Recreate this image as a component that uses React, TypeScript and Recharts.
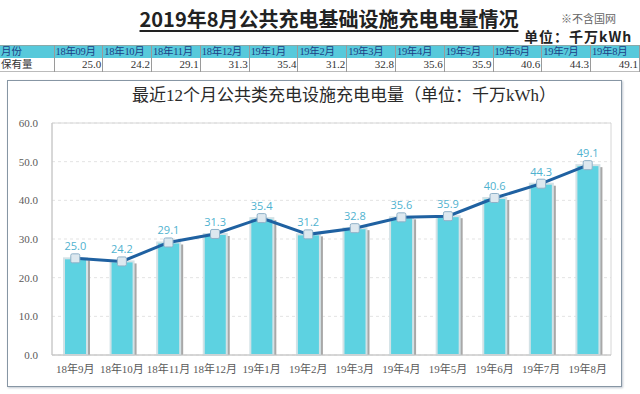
import { ComposedChart, Bar, Line, XAxis, YAxis, CartesianGrid, LabelList, ReferenceArea } from "recharts";

const months = ["18年9月", "18年10月", "18年11月", "18年12月", "19年1月", "19年2月", "19年3月", "19年4月", "19年5月", "19年6月", "19年7月", "19年8月"];
const tableMonths = ["18年09月", "18年10月", "18年11月", "18年12月", "19年1月", "19年2月", "19年3月", "19年4月", "19年5月", "19年6月", "19年7月", "19年8月"];
const volumes = [25.0, 24.2, 29.1, 31.3, 35.4, 31.2, 32.8, 35.6, 35.9, 40.6, 44.3, 49.1];
const yTicks = [0, 10, 20, 30, 40, 50, 60];

const data = months.map((m, i) => ({ month: m, value: volumes[i] }));

const cjkSerif = "'Liberation Serif', 'Noto Sans CJK SC', serif";
const cjkSans = "'Noto Sans CJK SC', sans-serif";

function ShadowBar(props: any) {
  const { x, y, width, height } = props;
  if (!height || height <= 0) return null;
  return (
    <g>
      <rect x={x + width - 1} y={y + 2} width={4} height={height - 2} fill="#a8a8a8" />
      <rect x={x} y={y} width={width} height={height} fill="#5dd2e1" stroke="#d3e2e6" strokeWidth={2} />
    </g>
  );
}

function SquareDot(props: any) {
  const { cx, cy, index } = props;
  return (
    <rect key={index} x={cx - 4.5} y={cy - 4.5} width={9} height={9} rx={1.5}
      fill="#dde8ef" stroke="#8fb1c8" strokeWidth={1} />
  );
}

const cell: any = { borderRight: "1px solid #9a9a9a", padding: "0 1px", whiteSpace: "nowrap", overflow: "hidden" };

export default function App() {
  return (
    <div style={{ position: "absolute", left: 0, top: 0, width: 640, height: 394, background: "#fff", overflow: "hidden" }}>
      {/* page title */}
      <div style={{ position: "absolute", left: 0, top: 7, width: 658, textAlign: "center", fontFamily: cjkSans,
        fontWeight: 700, fontSize: 20, lineHeight: "24px", color: "#222", textDecoration: "underline", textUnderlineOffset: 3 }}>
        2019年8月公共充电基础设施充电电量情况
      </div>
      <div style={{ position: "absolute", left: 561, top: 13, fontFamily: cjkSerif, fontSize: 11, lineHeight: "12px", color: "#666" }}>※不含国网</div>
      <div style={{ position: "absolute", left: 524, top: 29, fontFamily: cjkSans, fontWeight: 700, fontSize: 14, lineHeight: "15px",
        letterSpacing: 1, color: "#222" }}>
        单位：千万kWh
      </div>

      {/* table */}
      <table style={{ position: "absolute", left: 0, top: 45, width: 640, borderCollapse: "collapse", tableLayout: "fixed",
        fontFamily: cjkSerif, fontSize: 10.5 }}>
        <colgroup>
          <col style={{ width: 54 }} />
          {tableMonths.map((m) => <col key={m} />)}
        </colgroup>
        <tbody>
          <tr style={{ background: "#57c9db", height: 12, color: "#1c3f86", lineHeight: "12px" }}>
            <td style={{ ...cell, borderTop: "1px solid #8aa" }}>月份</td>
            {tableMonths.map((m) => <td key={m} style={{ ...cell, borderTop: "1px solid #8aa", letterSpacing: -0.3 }}>{m}</td>)}
          </tr>
          <tr style={{ height: 13, color: "#333", lineHeight: "13px", borderBottom: "1px solid #bbb" }}>
            <td style={cell}>保有量</td>
            {volumes.map((v, i) => <td key={i} style={{ ...cell, textAlign: "right", fontSize: 11 }}>{v.toFixed(1)}</td>)}
          </tr>
        </tbody>
      </table>

      {/* chart frame */}
      <div style={{ position: "absolute", left: 7, top: 80, width: 613, height: 305, border: "1.5px solid #8796a4",
        boxShadow: "1px 1px 2px #c0c8d0" }}>
        <div style={{ position: "absolute", left: 0, top: 4, width: 672, textAlign: "center", fontFamily: cjkSerif,
          fontSize: 17, lineHeight: "22px", color: "#2a2a2a" }}>
          最近12个月公共类充电设施充电电量（单位：千万kWh）
        </div>
      </div>

      <div style={{ position: "absolute", left: 0, top: 0 }}>
        <ComposedChart width={640} height={394} data={data} margin={{ top: 123, right: 29, bottom: 0, left: 0 }}>
          <ReferenceArea y1={0} y2={60} fill="none" stroke="#d6d6d6" strokeWidth={1} />
          <CartesianGrid vertical={false} stroke="#e3e3e3" strokeDasharray="3 3" />
          <XAxis dataKey="month" height={39} interval={0} tickLine={false} axisLine={{ stroke: "#c4c4c4" }}
            tickSize={6} tickMargin={4} tick={{ fill: "#5a5a5a", fontSize: 11, fontFamily: cjkSerif }} />
          <YAxis width={52} domain={[0, 60]} ticks={yTicks} tickFormatter={(v: number) => v.toFixed(1)}
            tickLine={false} axisLine={{ stroke: "#c4c4c4" }} tickSize={6} tickMargin={8}
            tick={{ fill: "#5a5a5a", fontSize: 11, fontFamily: cjkSerif }} />
          <Bar dataKey="value" barSize={23} shape={ShadowBar} isAnimationActive={false} />
          <Line dataKey="value" type="linear" stroke="#1f61a1" strokeWidth={3} dot={SquareDot} activeDot={false}
            isAnimationActive={false}>
            <LabelList dataKey="value" position="top" offset={8} fill="#4fb2cf" fontSize={11}
              fontFamily="'Open Sans', sans-serif" formatter={(v: any) => Number(v).toFixed(1)} />
          </Line>
        </ComposedChart>
      </div>
    </div>
  );
}
